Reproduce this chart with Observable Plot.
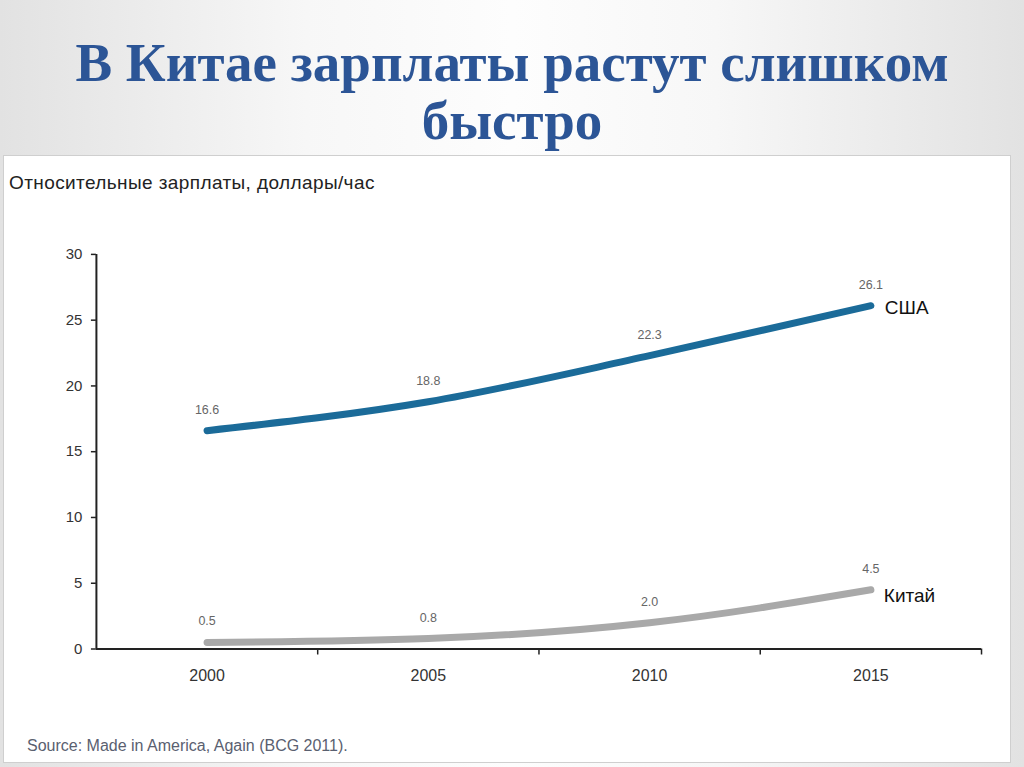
<!DOCTYPE html>
<html>
<head>
<meta charset="utf-8">
<script src="https://cdn.jsdelivr.net/npm/d3@7"></script>
<script src="https://cdn.jsdelivr.net/npm/@observablehq/plot@0.6"></script>
<style>
  html, body { margin: 0; padding: 0; }
  body { width: 1024px; height: 767px; position: relative; overflow: hidden;
         background: linear-gradient(to right, #e2e2e2, #f7f7f7 30%, #fdfdfd 50%, #f7f7f7 70%, #e2e2e2); }
  #title { position: absolute; left: 0; top: 34px; width: 1024px; text-align: center;
           font-family: "Liberation Serif", serif; font-weight: bold; font-size: 55px; line-height: 58px;
           color: #2c5596; }
  #panel { position: absolute; left: 3px; top: 155px; width: 1006px; height: 606px; background: #fff;
           border: 1px solid #cfcfcf; }
  #ylab { position: absolute; left: 5px; top: 16px; font-family: "Liberation Sans", Arial, sans-serif;
          font-size: 19px; color: #222; letter-spacing: 0.4px; }
  #source { position: absolute; left: 23px; top: 581px; font-family: "Liberation Sans", Arial, sans-serif;
            font-size: 16px; color: #5a6070; }
  #chart { position: absolute; left: -3px; top: -1px; }
</style>
</head>
<body>
<div id="title">В Китае зарплаты растут слишком<br>быстро</div>
<div id="panel">
  <div id="ylab">Относительные зарплаты, доллары/час</div>
  <div id="chart"></div>
  <div id="source">Source: Made in America, Again (BCG 2011).</div>
</div>
<script>
const years = [2000, 2005, 2010, 2015];
const usa = [16.6, 18.8, 22.3, 26.1];
const china = [0.5, 0.8, 2.0, 4.5];
const seriesNames = ["США", "Китай"];
const seriesColors = ["#1b6b99", "#a9a9a9"];
const yTicks = [0, 5, 10, 15, 20, 25, 30];

const step = years[1] - years[0];
const xDomain = [years[0] - step / 2, years[years.length - 1] + step / 2];
const boundaries = years.map(y => y + step / 2);

const data = [
  ...years.map((x, i) => ({series: seriesNames[0], x, y: usa[i]})),
  ...years.map((x, i) => ({series: seriesNames[1], x, y: china[i]}))
];
const last = data.filter(d => d.x === years[years.length - 1]);

const font = "'Liberation Sans', Arial, sans-serif";

const chart = Plot.plot({
  width: 1010,
  height: 607,
  marginLeft: 95,
  marginRight: 29,
  marginTop: 99,
  marginBottom: 113,
  style: {fontFamily: font, background: "transparent", overflow: "visible"},
  x: {type: "linear", domain: xDomain},
  y: {domain: [0, 30]},
  color: {domain: seriesNames, range: seriesColors},
  marks: [
    Plot.axisY({ticks: yTicks, tickSize: 5, tickPadding: 9, fontSize: 15, color: "#333", label: null, stroke: "#222", strokeWidth: 1.5}),
    Plot.axisX({ticks: boundaries, tickSize: 6, tickFormat: () => "", label: null, stroke: "#222", strokeWidth: 1.5}),
    Plot.axisX({ticks: years, tickSize: 0, tickPadding: 21, tickFormat: d => String(d), fontSize: 16, color: "#333", label: null}),
    Plot.ruleX([xDomain[0]], {y1: 0, y2: 30, stroke: "#222", strokeWidth: 2}),
    Plot.ruleY([0], {stroke: "#222", strokeWidth: 2}),
    Plot.line(data, {x: "x", y: "y", z: "series", stroke: "series", strokeWidth: 7, curve: "monotone-x", strokeLinecap: "round"}),
    Plot.text(data, {x: "x", y: "y", text: d => d.y.toFixed(1), dy: -21, fontSize: 12.5, fill: "#666"}),
    Plot.text(last.filter(d => d.series === seriesNames[0]), {x: "x", y: "y", text: "series", dx: 14, dy: 2, textAnchor: "start", fontSize: 19, fill: "#111"}),
    Plot.text(last.filter(d => d.series === seriesNames[1]), {x: "x", y: "y", text: "series", dx: 13, dy: 6, textAnchor: "start", fontSize: 19, fill: "#111"})
  ]
});
document.getElementById("chart").appendChild(chart);
</script>
</body>
</html>
